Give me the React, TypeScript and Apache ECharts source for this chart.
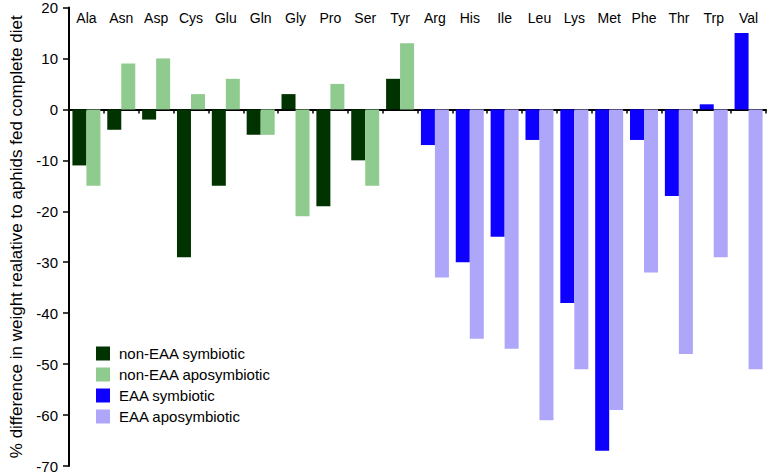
import React, { useEffect, useRef } from "react";
import * as echarts from "echarts";

const nonEaaCategories = ["Ala", "Asn", "Asp", "Cys", "Glu", "Gln", "Gly", "Pro", "Ser", "Tyr"];
const eaaCategories = ["Arg", "His", "Ile", "Leu", "Lys", "Met", "Phe", "Thr", "Trp", "Val"];

const nonEaaSymbiotic = [-11, -4, -2, -29, -15, -5, 3, -19, -10, 6];
const nonEaaAposymbiotic = [-15, 9, 10, 3, 6, -5, -21, 5, -15, 13];
const eaaSymbiotic = [-7, -30, -25, -6, -38, -67, -6, -17, 1, 15];
const eaaAposymbiotic = [-33, -45, -47, -61, -51, -59, -32, -48, -29, -51];

const yTicks = { min: -70, max: 20, interval: 10 };

const FONT = "'Liberation Sans', Arial, Helvetica, sans-serif";

export default function App() {
  const ref = useRef<HTMLDivElement>(null);
  useEffect(() => {
    if (!ref.current) return;
    const chart = echarts.init(ref.current, null, { renderer: "svg" });
    const categories = [...nonEaaCategories, ...eaaCategories];
    const pad = eaaCategories.map(() => null);
    const padN = nonEaaCategories.map(() => null);
    const catAxisBase = {
      type: "category",
      data: categories,
      boundaryGap: true,
    };
    chart.setOption({
      animation: false,
      textStyle: { fontFamily: FONT, color: "#000" },
      grid: { left: 65, right: 1, top: 6, bottom: 10, containLabel: false },
      legend: {
        orient: "vertical",
        left: 96,
        top: 346,
        itemWidth: 14,
        itemHeight: 14,
        itemGap: 6,
        icon: "rect",
        padding: 0,
        textStyle: { fontFamily: FONT, fontSize: 15, color: "#000", lineHeight: 14, padding: [0, 0, 0, 4] },
        data: ["non-EAA symbiotic", "non-EAA aposymbiotic", "EAA symbiotic", "EAA aposymbiotic"],
      },
      xAxis: [
        {
          ...catAxisBase,
          position: "top",
          axisLine: { show: false, onZero: false },
          axisTick: { show: false },
          axisLabel: { inside: true, margin: 3, fontSize: 14, color: "#000", fontFamily: FONT, interval: 0 },
          splitLine: { show: false },
        },
        {
          ...catAxisBase,
          position: "bottom",
          axisLine: { show: true, onZero: true, lineStyle: { color: "#000", width: 2 } },
          axisTick: { show: true, length: 4, lineStyle: { color: "#000", width: 1.5 } },
          axisLabel: { show: false },
          splitLine: { show: false },
        },
      ],
      yAxis: {
        type: "value",
        min: yTicks.min,
        max: yTicks.max,
        interval: yTicks.interval,
        name: "% difference in weight realative to aphids fed complete diet",
        nameLocation: "middle",
        nameGap: 44,
        nameTextStyle: { fontSize: 17, color: "#000", fontFamily: FONT },
        axisLine: { show: true, lineStyle: { color: "#000", width: 2 } },
        axisTick: { show: true, length: 6, lineStyle: { color: "#000", width: 1.5 } },
        axisLabel: { fontSize: 15, color: "#000", margin: 11, fontFamily: FONT },
        splitLine: { show: false },
      },
      series: [
        {
          name: "non-EAA symbiotic",
          type: "bar",
          stack: "sym",
          xAxisIndex: 0,
          barWidth: 14,
          barGap: "0%",
          itemStyle: { color: "#003300" },
          data: [...nonEaaSymbiotic, ...pad],
        },
        {
          name: "non-EAA aposymbiotic",
          type: "bar",
          stack: "apo",
          xAxisIndex: 0,
          barWidth: 14,
          barGap: "0%",
          itemStyle: { color: "#8fcb8f" },
          data: [...nonEaaAposymbiotic, ...pad],
        },
        {
          name: "EAA symbiotic",
          type: "bar",
          stack: "sym",
          xAxisIndex: 0,
          barWidth: 14,
          barGap: "0%",
          itemStyle: { color: "#0d00ff" },
          data: [...padN, ...eaaSymbiotic],
        },
        {
          name: "EAA aposymbiotic",
          type: "bar",
          stack: "apo",
          xAxisIndex: 0,
          barWidth: 14,
          barGap: "0%",
          itemStyle: { color: "#aea6f9" },
          data: [...padN, ...eaaAposymbiotic],
        },
      ],
    });
    return () => chart.dispose();
  }, []);
  return <div ref={ref} style={{ width: 767, height: 476, position: "absolute", left: 0, top: 0 }} />;
}
